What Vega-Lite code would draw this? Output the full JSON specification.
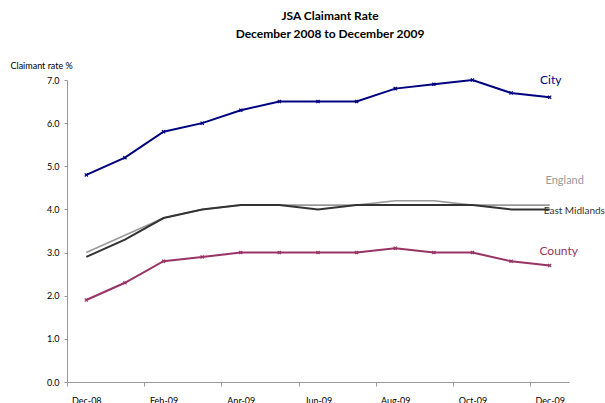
{
  "$schema": "https://vega.github.io/schema/vega-lite/v6.json",
  "width": 502,
  "height": 302,
  "autosize": "none",
  "padding": {"left": 67, "top": 80, "right": 36, "bottom": 21},
  "background": "white",
  "title": {
    "text": ["JSA Claimant Rate", "December 2008 to December 2009"],
    "font": "Lato",
    "fontSize": 12,
    "fontWeight": "bold",
    "color": "black",
    "lineHeight": 18,
    "anchor": "middle",
    "dx": 12,
    "offset": 20
  },
  "config": {
    "view": {"stroke": null},
    "font": "Lato",
    "text": {"font": "Lato"}
  },
  "data": {
    "values": [
      {"month": "Dec-08", "series": "City", "rate": 4.8},
      {"month": "Jan-09", "series": "City", "rate": 5.2},
      {"month": "Feb-09", "series": "City", "rate": 5.8},
      {"month": "Mar-09", "series": "City", "rate": 6.0},
      {"month": "Apr-09", "series": "City", "rate": 6.3},
      {"month": "May-09", "series": "City", "rate": 6.5},
      {"month": "Jun-09", "series": "City", "rate": 6.5},
      {"month": "Jul-09", "series": "City", "rate": 6.5},
      {"month": "Aug-09", "series": "City", "rate": 6.8},
      {"month": "Sep-09", "series": "City", "rate": 6.9},
      {"month": "Oct-09", "series": "City", "rate": 7.0},
      {"month": "Nov-09", "series": "City", "rate": 6.7},
      {"month": "Dec-09", "series": "City", "rate": 6.6},
      {"month": "Dec-08", "series": "England", "rate": 3.0},
      {"month": "Jan-09", "series": "England", "rate": 3.4},
      {"month": "Feb-09", "series": "England", "rate": 3.8},
      {"month": "Mar-09", "series": "England", "rate": 4.0},
      {"month": "Apr-09", "series": "England", "rate": 4.1},
      {"month": "May-09", "series": "England", "rate": 4.1},
      {"month": "Jun-09", "series": "England", "rate": 4.1},
      {"month": "Jul-09", "series": "England", "rate": 4.1},
      {"month": "Aug-09", "series": "England", "rate": 4.2},
      {"month": "Sep-09", "series": "England", "rate": 4.2},
      {"month": "Oct-09", "series": "England", "rate": 4.1},
      {"month": "Nov-09", "series": "England", "rate": 4.1},
      {"month": "Dec-09", "series": "England", "rate": 4.1},
      {"month": "Dec-08", "series": "East Midlands", "rate": 2.9},
      {"month": "Jan-09", "series": "East Midlands", "rate": 3.3},
      {"month": "Feb-09", "series": "East Midlands", "rate": 3.8},
      {"month": "Mar-09", "series": "East Midlands", "rate": 4.0},
      {"month": "Apr-09", "series": "East Midlands", "rate": 4.1},
      {"month": "May-09", "series": "East Midlands", "rate": 4.1},
      {"month": "Jun-09", "series": "East Midlands", "rate": 4.0},
      {"month": "Jul-09", "series": "East Midlands", "rate": 4.1},
      {"month": "Aug-09", "series": "East Midlands", "rate": 4.1},
      {"month": "Sep-09", "series": "East Midlands", "rate": 4.1},
      {"month": "Oct-09", "series": "East Midlands", "rate": 4.1},
      {"month": "Nov-09", "series": "East Midlands", "rate": 4.0},
      {"month": "Dec-09", "series": "East Midlands", "rate": 4.0},
      {"month": "Dec-08", "series": "County", "rate": 1.9},
      {"month": "Jan-09", "series": "County", "rate": 2.3},
      {"month": "Feb-09", "series": "County", "rate": 2.8},
      {"month": "Mar-09", "series": "County", "rate": 2.9},
      {"month": "Apr-09", "series": "County", "rate": 3.0},
      {"month": "May-09", "series": "County", "rate": 3.0},
      {"month": "Jun-09", "series": "County", "rate": 3.0},
      {"month": "Jul-09", "series": "County", "rate": 3.0},
      {"month": "Aug-09", "series": "County", "rate": 3.1},
      {"month": "Sep-09", "series": "County", "rate": 3.0},
      {"month": "Oct-09", "series": "County", "rate": 3.0},
      {"month": "Nov-09", "series": "County", "rate": 2.8},
      {"month": "Dec-09", "series": "County", "rate": 2.7}
    ]
  },
  "encoding": {
    "x": {
      "field": "month",
      "type": "nominal",
      "sort": null,
      "scale": {"type": "band", "paddingInner": 0, "paddingOuter": 0},
      "axis": {
        "title": null,
        "values": ["Dec-08", "Feb-09", "Apr-09", "Jun-09", "Aug-09", "Oct-09", "Dec-09"],
        "labelAngle": 0,
        "tickOffset": -19.3,
        "labelOffset": 19.3,
        "domainColor": "#999999",
        "tickColor": "#999999",
        "tickSize": 4,
        "labelPadding": 10,
        "labelFontSize": 9,
        "labelColor": "black",
        "labelFont": "Lato"
      }
    },
    "y": {
      "field": "rate",
      "type": "quantitative",
      "scale": {"domain": [0, 7], "nice": false},
      "axis": {
        "title": "Claimant rate %",
        "titleAngle": 0,
        "titleAlign": "left",
        "titleBaseline": "middle",
        "titleX": -57,
        "titleY": -15,
        "titleFontSize": 9,
        "titleFontWeight": "normal",
        "titleFont": "Lato",
        "titleColor": "black",
        "values": [0, 1, 2, 3, 4, 5, 6, 7],
        "format": ".1f",
        "grid": false,
        "domainColor": "#999999",
        "tickColor": "#999999",
        "tickSize": 3,
        "labelPadding": 5,
        "labelFontSize": 9,
        "labelColor": "black",
        "labelFont": "Lato"
      }
    },
    "color": {
      "field": "series",
      "type": "nominal",
      "scale": {
        "domain": ["City", "England", "East Midlands", "County"],
        "range": ["#000080", "#999999", "#333333", "#993366"]
      },
      "legend": null
    }
  },
  "layer": [
    {
      "transform": [{"filter": "datum.series == 'England'"}],
      "mark": {"type": "line", "strokeWidth": 1.6}
    },
    {
      "transform": [{"filter": "datum.series != 'England'"}],
      "mark": {"type": "line", "strokeWidth": 2}
    },
    {
      "transform": [{"filter": "datum.series == 'City' || datum.series == 'County'"}],
      "mark": {
        "type": "point",
        "shape": "M-1,-1L1,1M-1,1L1,-1",
        "size": 10,
        "filled": false,
        "strokeWidth": 1.2,
        "opacity": 1
      }
    },
    {
      "transform": [{"filter": "datum.series == 'City' && datum.month == 'Dec-09'"}],
      "mark": {"type": "text", "text": "City", "fontSize": 12, "dy": -17, "dx": 1, "align": "center"}
    },
    {
      "transform": [{"filter": "datum.series == 'England' && datum.month == 'Dec-09'"}],
      "mark": {"type": "text", "text": "England", "fontSize": 11, "dy": -24, "dx": 15, "align": "center"}
    },
    {
      "transform": [{"filter": "datum.series == 'East Midlands' && datum.month == 'Dec-09'"}],
      "mark": {"type": "text", "text": "East Midlands", "fontSize": 10, "dy": 2, "dx": -6, "align": "left", "color": "black"}
    },
    {
      "transform": [{"filter": "datum.series == 'County' && datum.month == 'Dec-09'"}],
      "mark": {"type": "text", "text": "County", "fontSize": 12, "dy": -15, "dx": 9, "align": "center"}
    }
  ]
}
